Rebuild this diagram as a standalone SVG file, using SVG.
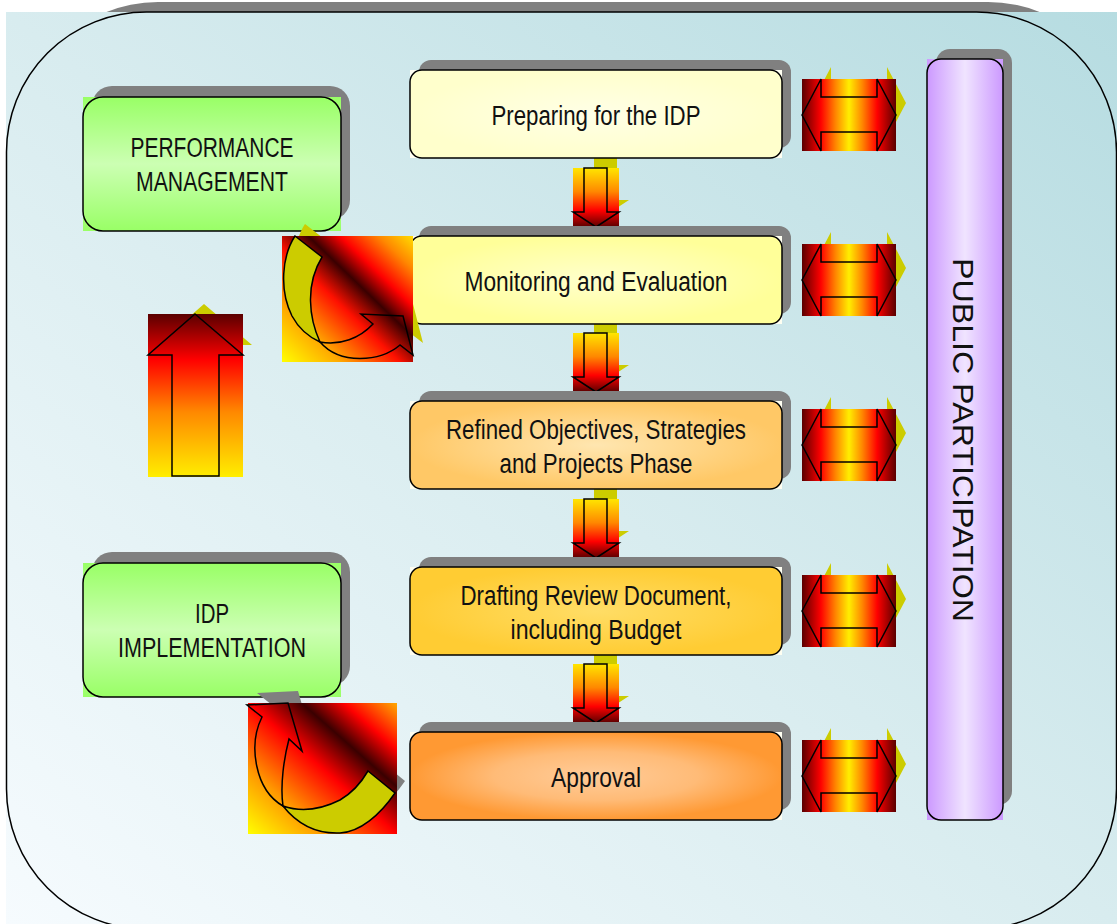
<svg xmlns="http://www.w3.org/2000/svg" width="1117" height="924" viewBox="0 0 1117 924">
<defs>
  <linearGradient id="bg" x1="0" y1="1" x2="1" y2="0">
    <stop offset="0" stop-color="#f6fbfe"/>
    <stop offset="0.5" stop-color="#d8ecef"/>
    <stop offset="1" stop-color="#b6dce1"/>
  </linearGradient>
  <radialGradient id="gBox1" cx="0.5" cy="0.5" r="0.5">
    <stop offset="0" stop-color="#ffffe6"/><stop offset="1" stop-color="#ffffcc"/>
  </radialGradient>
  <radialGradient id="gBox2" cx="0.5" cy="0.5" r="0.5">
    <stop offset="0" stop-color="#ffffcc"/><stop offset="1" stop-color="#ffff99"/>
  </radialGradient>
  <radialGradient id="gBox3" cx="0.5" cy="0.5" r="0.5">
    <stop offset="0" stop-color="#ffe6b0"/><stop offset="1" stop-color="#ffc866"/>
  </radialGradient>
  <radialGradient id="gBox4" cx="0.5" cy="0.5" r="0.5">
    <stop offset="0" stop-color="#ffdd66"/><stop offset="1" stop-color="#ffcc33"/>
  </radialGradient>
  <radialGradient id="gBox5" cx="0.5" cy="0.5" r="0.5">
    <stop offset="0" stop-color="#ffcc99"/><stop offset="0.55" stop-color="#ffbb77"/><stop offset="1" stop-color="#ff9933"/>
  </radialGradient>
  <linearGradient id="gGreen" x1="0" y1="0" x2="0" y2="1">
    <stop offset="0" stop-color="#99ff66"/><stop offset="0.5" stop-color="#ccffb3"/><stop offset="1" stop-color="#99ff66"/>
  </linearGradient>
  <linearGradient id="gPurple" x1="0" y1="0" x2="1" y2="0">
    <stop offset="0" stop-color="#cc99ff"/><stop offset="0.5" stop-color="#f0e4ff"/><stop offset="1" stop-color="#cc99ff"/>
  </linearGradient>
  <linearGradient id="gDown" x1="0" y1="0" x2="0" y2="1">
    <stop offset="0" stop-color="#ffe600"/><stop offset="0.4" stop-color="#ff8800"/><stop offset="0.72" stop-color="#ff0000"/><stop offset="1" stop-color="#5a0000"/>
  </linearGradient>
  <linearGradient id="gUp" x1="0" y1="0" x2="0" y2="1">
    <stop offset="0" stop-color="#5a0000"/><stop offset="0.28" stop-color="#ff0000"/><stop offset="0.6" stop-color="#ff8800"/><stop offset="1" stop-color="#ffee00"/>
  </linearGradient>
  <linearGradient id="gDouble" x1="0" y1="0" x2="1" y2="0">
    <stop offset="0" stop-color="#5a0000"/><stop offset="0.2" stop-color="#ff0000"/><stop offset="0.36" stop-color="#ff8800"/><stop offset="0.5" stop-color="#ffee00"/><stop offset="0.64" stop-color="#ff8800"/><stop offset="0.8" stop-color="#ff0000"/><stop offset="1" stop-color="#5a0000"/>
  </linearGradient>
  <linearGradient id="gCurve1" x1="0" y1="1" x2="1" y2="0">
    <stop offset="0" stop-color="#ffff00"/><stop offset="0.22" stop-color="#ffaa00"/><stop offset="0.45" stop-color="#ff1000"/><stop offset="0.6" stop-color="#3a0000"/><stop offset="0.72" stop-color="#ff0000"/><stop offset="0.87" stop-color="#ff8800"/><stop offset="1" stop-color="#ffdd00"/>
  </linearGradient>
  <linearGradient id="gCurve2" x1="0" y1="1" x2="1" y2="0">
    <stop offset="0" stop-color="#ffff00"/><stop offset="0.25" stop-color="#ff9900"/><stop offset="0.5" stop-color="#ff0000"/><stop offset="0.68" stop-color="#3a0000"/><stop offset="0.82" stop-color="#ff0000"/><stop offset="1" stop-color="#ffaa00"/>
  </linearGradient>
  <g id="downArrow">
    <path transform="translate(10,-12)" fill="#cccc00" d="M11,0 L34,0 L34,44 L46,44 L23,59 L0,44 L11,44 Z"/>
    <rect x="0" y="0" width="46" height="59" fill="url(#gDown)"/>
    <path class="outline" d="M11,0 L34,0 L34,44 L46,44 L23,59 L0,44 L11,44 Z"/>
  </g>
  <g id="doubleArrow">
    <path transform="translate(10,-12)" fill="#cccc00" d="M0,36 L19,0 L19,18 L75,18 L75,0 L94,36 L75,72 L75,53 L19,53 L19,72 Z"/>
    <rect x="0" y="0" width="94" height="72" fill="url(#gDouble)"/>
    <path class="outline" d="M0,36 L19,0 L19,18 L75,18 L75,0 L94,36 L75,72 L75,53 L19,53 L19,72 Z"/>
  </g>
</defs>
<style>
  .shadow{fill:#808080}
  .border{fill:none;stroke:#000;stroke-width:1.5}
  .outline{fill:none;stroke:#000;stroke-width:1.5;stroke-linejoin:miter}
  .lbl{font-family:"Liberation Sans Narrow","Liberation Sans",Arial,sans-serif;font-size:27px;fill:#111;text-anchor:middle}
  .vlbl{font-family:"Liberation Sans",Arial,sans-serif;font-size:30px;fill:#111;text-anchor:middle}
</style>

<rect x="0" y="0" width="1117" height="924" fill="#ffffff"/>
<g id="frame">
  <rect x="18" y="2" width="1110" height="917" rx="140" class="shadow"/>
  <rect x="6" y="12" width="1111" height="912" fill="url(#bg)"/>
  <rect x="6.5" y="12" width="1110" height="917" rx="140" class="border"/>
</g>

<g id="connectors">
  <use href="#downArrow" x="573" y="168"/>
  <use href="#downArrow" x="573" y="333"/>
  <use href="#downArrow" x="573" y="499"/>
  <use href="#downArrow" x="573" y="664"/>
  <use href="#doubleArrow" x="802" y="79"/>
  <use href="#doubleArrow" x="802" y="244"/>
  <use href="#doubleArrow" x="802" y="409"/>
  <use href="#doubleArrow" x="802" y="575"/>
  <use href="#doubleArrow" x="802" y="740"/>
  <g id="upArrow">
    <path transform="translate(9,-10)" fill="#cccc00" d="M195,314 L243,355 L219,355 L219,476 L172,476 L172,355 L148,355 Z"/>
    <rect x="148" y="314" width="95" height="163" fill="url(#gUp)"/>
    <path class="outline" d="M195,314 L243,355 L219,355 L219,476 L172,476 L172,355 L148,355 Z"/>
  </g>
</g>

<g id="n-prep">
  <rect x="419" y="60" width="372" height="88" rx="12" class="shadow"/>
  <rect x="410" y="70" width="372" height="88" fill="#fffff2"/>
  <rect x="410" y="70" width="372" height="88" rx="12" fill="url(#gBox1)"/>
  <rect x="410" y="70" width="372" height="88" rx="12" class="border"/>
  <text class="lbl" x="596" y="125" textLength="209" lengthAdjust="spacingAndGlyphs">Preparing for the IDP</text>
</g>
<g id="n-monitor">
  <rect x="419" y="226" width="372" height="88" rx="12" class="shadow"/>
  <rect x="410" y="236" width="372" height="88" fill="#fffff2"/>
  <rect x="410" y="236" width="372" height="88" rx="12" fill="url(#gBox2)"/>
  <rect x="410" y="236" width="372" height="88" rx="12" class="border"/>
  <text class="lbl" x="596" y="291" textLength="263" lengthAdjust="spacingAndGlyphs">Monitoring and Evaluation</text>
</g>
<g id="n-refined">
  <rect x="419" y="391" width="372" height="88" rx="12" class="shadow"/>
  <rect x="410" y="401" width="372" height="88" fill="#fffff2"/>
  <rect x="410" y="401" width="372" height="88" rx="12" fill="url(#gBox3)"/>
  <rect x="410" y="401" width="372" height="88" rx="12" class="border"/>
  <text class="lbl" x="596" y="439" textLength="300" lengthAdjust="spacingAndGlyphs">Refined Objectives, Strategies</text>
  <text class="lbl" x="596" y="473" textLength="193" lengthAdjust="spacingAndGlyphs">and Projects Phase</text>
</g>
<g id="n-draft">
  <rect x="419" y="557" width="372" height="88" rx="12" class="shadow"/>
  <rect x="410" y="567" width="372" height="88" fill="#fffff2"/>
  <rect x="410" y="567" width="372" height="88" rx="12" fill="url(#gBox4)"/>
  <rect x="410" y="567" width="372" height="88" rx="12" class="border"/>
  <text class="lbl" x="596" y="605" textLength="271" lengthAdjust="spacingAndGlyphs">Drafting Review Document,</text>
  <text class="lbl" x="596" y="639" textLength="171" lengthAdjust="spacingAndGlyphs">including Budget</text>
</g>
<g id="n-approval">
  <rect x="419" y="722" width="372" height="88" rx="12" class="shadow"/>
  <rect x="410" y="732" width="372" height="88" fill="#fffff2"/>
  <rect x="410" y="732" width="372" height="88" rx="12" fill="url(#gBox5)"/>
  <rect x="410" y="732" width="372" height="88" rx="12" class="border"/>
  <text class="lbl" x="596" y="787" textLength="90" lengthAdjust="spacingAndGlyphs">Approval</text>
</g>

<g id="n-performance">
  <rect x="92" y="86" width="258" height="134" rx="20" class="shadow"/>
  <rect x="83" y="97" width="258" height="134" fill="url(#gGreen)"/>
  <rect x="83" y="97" width="258" height="134" rx="20" class="border"/>
  <text class="lbl" x="212" y="157" textLength="163" lengthAdjust="spacingAndGlyphs">PERFORMANCE</text>
  <text class="lbl" x="212" y="191" textLength="152" lengthAdjust="spacingAndGlyphs">MANAGEMENT</text>
</g>
<g id="n-implementation">
  <rect x="92" y="552" width="258" height="134" rx="20" class="shadow"/>
  <rect x="83" y="563" width="258" height="134" fill="url(#gGreen)"/>
  <rect x="83" y="563" width="258" height="134" rx="20" class="border"/>
  <text class="lbl" x="212" y="623" textLength="34" lengthAdjust="spacingAndGlyphs">IDP</text>
  <text class="lbl" x="212" y="657" textLength="188" lengthAdjust="spacingAndGlyphs">IMPLEMENTATION</text>
</g>

<g id="n-public">
  <rect x="936" y="49" width="76" height="756" rx="14" class="shadow"/>
  <rect x="927" y="59" width="76" height="761" fill="url(#gPurple)"/>
  <rect x="927" y="59" width="76" height="761" rx="14" class="border"/>
  <text class="vlbl" x="0" y="0" transform="translate(953,440) rotate(90)" textLength="364" lengthAdjust="spacingAndGlyphs">PUBLIC PARTICIPATION</text>
</g>

<g id="curve1">
  <g transform="translate(10,-12)" fill="#cccc00">
    <path d="M295,236 C282,256 279,290 292,316 C299,329 309,337 320,342 C309,318 305,285 322,257 Z"/>
    <path d="M320,342 C340,346 360,338 373,324 L361,314 L403,316 L413,355 L400,345 C380,362 340,365 320,342 Z"/>
  </g>
  <rect x="282" y="236" width="131" height="126" fill="url(#gCurve1)"/>
  <path d="M295,236 C282,256 279,290 292,316 C299,329 309,337 320,342 C309,318 305,285 322,257 Z" fill="#cccc00" stroke="#000" stroke-width="1.5"/>
  <path class="outline" d="M320,342 C340,346 360,338 373,324 L361,314 L403,316 L413,355 L400,345 C380,362 340,365 320,342 Z"/>
</g>
<g id="curve2">
  <g transform="translate(10,-12)" class="shadow">
    <path d="M368,771 L395,793 C380,815 360,832 340,833 C318,834 298,825 283,806 C300,812 320,810 340,800 C352,793 361,783 368,771 Z"/>
    <path d="M283,806 C255,790 248,745 262,717 L247,705 L288,703 L302,751 L289,739 C284,758 280,785 283,806 Z"/>
  </g>
  <rect x="248" y="703" width="149" height="131" fill="url(#gCurve2)"/>
  <path d="M368,771 L395,793 C380,815 360,832 340,833 C318,834 298,825 283,806 C300,812 320,810 340,800 C352,793 361,783 368,771 Z" fill="#cccc00" stroke="#000" stroke-width="1.5"/>
  <path class="outline" d="M283,806 C255,790 248,745 262,717 L247,705 L288,703 L302,751 L289,739 C284,758 280,785 283,806 Z"/>
</g>
</svg>
